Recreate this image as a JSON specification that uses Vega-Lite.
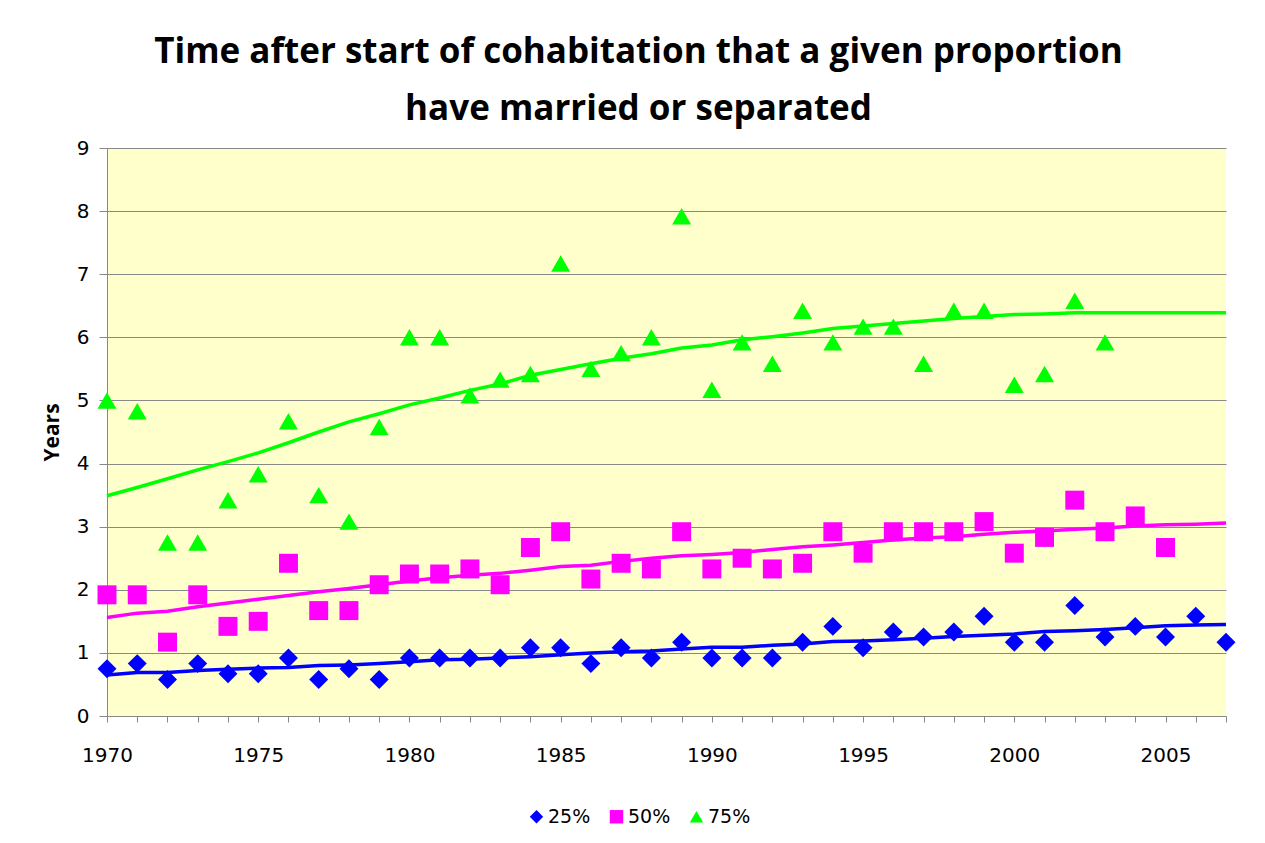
{
  "$schema": "https://vega.github.io/schema/vega-lite/v6.json",
  "width": 1119,
  "height": 568,
  "autosize": "none",
  "padding": {"left": 107, "top": 148, "right": 39, "bottom": 127},
  "background": "white",
  "title": {
    "text": ["Time after start of cohabitation that a given proportion", "have married or separated"],
    "font": "Open Sans",
    "fontSize": 35,
    "fontWeight": "bold",
    "lineHeight": 57,
    "color": "black",
    "anchor": "middle",
    "dx": -28,
    "offset": 11
  },
  "config": {
    "view": {"fill": "#FFFFCC", "stroke": null},
    "font": "DejaVu Sans",
    "legend": {
      "orient": "none",
      "legendX": 420,
      "legendY": 659,
      "direction": "horizontal",
      "title": null,
      "symbolSize": 180,
      "symbolOpacity": 1,
      "symbolStrokeWidth": 0,
      "labelFontSize": 19,
      "labelFont": "DejaVu Sans",
      "labelColor": "black",
      "labelOffset": 2,
      "columnPadding": 16
    }
  },
  "datasets": {
    "trends": [
      {"year": 1970, "series": "25%", "value": 0.65}, {"year": 1971, "series": "25%", "value": 0.69}, {"year": 1972, "series": "25%", "value": 0.69}, {"year": 1973, "series": "25%", "value": 0.72}, {"year": 1974, "series": "25%", "value": 0.74}, {"year": 1975, "series": "25%", "value": 0.76}, {"year": 1976, "series": "25%", "value": 0.77}, {"year": 1977, "series": "25%", "value": 0.80}, {"year": 1978, "series": "25%", "value": 0.81}, {"year": 1979, "series": "25%", "value": 0.83}, {"year": 1980, "series": "25%", "value": 0.86}, {"year": 1981, "series": "25%", "value": 0.89}, {"year": 1982, "series": "25%", "value": 0.90}, {"year": 1983, "series": "25%", "value": 0.92},
      {"year": 1984, "series": "25%", "value": 0.94}, {"year": 1985, "series": "25%", "value": 0.97}, {"year": 1986, "series": "25%", "value": 1.00}, {"year": 1987, "series": "25%", "value": 1.02}, {"year": 1988, "series": "25%", "value": 1.03}, {"year": 1989, "series": "25%", "value": 1.06}, {"year": 1990, "series": "25%", "value": 1.09}, {"year": 1991, "series": "25%", "value": 1.09}, {"year": 1992, "series": "25%", "value": 1.12}, {"year": 1993, "series": "25%", "value": 1.14}, {"year": 1994, "series": "25%", "value": 1.18}, {"year": 1995, "series": "25%", "value": 1.19},
      {"year": 1996, "series": "25%", "value": 1.21}, {"year": 1997, "series": "25%", "value": 1.23}, {"year": 1998, "series": "25%", "value": 1.26}, {"year": 1999, "series": "25%", "value": 1.28}, {"year": 2000, "series": "25%", "value": 1.30}, {"year": 2001, "series": "25%", "value": 1.34}, {"year": 2002, "series": "25%", "value": 1.35}, {"year": 2003, "series": "25%", "value": 1.37}, {"year": 2004, "series": "25%", "value": 1.40}, {"year": 2005, "series": "25%", "value": 1.43}, {"year": 2006, "series": "25%", "value": 1.44}, {"year": 2007, "series": "25%", "value": 1.45},
      {"year": 1970, "series": "50%", "value": 1.56}, {"year": 1971, "series": "50%", "value": 1.63}, {"year": 1972, "series": "50%", "value": 1.66}, {"year": 1973, "series": "50%", "value": 1.73}, {"year": 1974, "series": "50%", "value": 1.79}, {"year": 1975, "series": "50%", "value": 1.85}, {"year": 1976, "series": "50%", "value": 1.91}, {"year": 1977, "series": "50%", "value": 1.97}, {"year": 1978, "series": "50%", "value": 2.02}, {"year": 1979, "series": "50%", "value": 2.08}, {"year": 1980, "series": "50%", "value": 2.14}, {"year": 1981, "series": "50%", "value": 2.19}, {"year": 1982, "series": "50%", "value": 2.23}, {"year": 1983, "series": "50%", "value": 2.26},
      {"year": 1984, "series": "50%", "value": 2.31}, {"year": 1985, "series": "50%", "value": 2.37}, {"year": 1986, "series": "50%", "value": 2.39}, {"year": 1987, "series": "50%", "value": 2.45}, {"year": 1988, "series": "50%", "value": 2.50}, {"year": 1989, "series": "50%", "value": 2.54}, {"year": 1990, "series": "50%", "value": 2.56}, {"year": 1991, "series": "50%", "value": 2.59}, {"year": 1992, "series": "50%", "value": 2.64}, {"year": 1993, "series": "50%", "value": 2.68}, {"year": 1994, "series": "50%", "value": 2.71}, {"year": 1995, "series": "50%", "value": 2.75},
      {"year": 1996, "series": "50%", "value": 2.79}, {"year": 1997, "series": "50%", "value": 2.82}, {"year": 1998, "series": "50%", "value": 2.84}, {"year": 1999, "series": "50%", "value": 2.88}, {"year": 2000, "series": "50%", "value": 2.91}, {"year": 2001, "series": "50%", "value": 2.93}, {"year": 2002, "series": "50%", "value": 2.96}, {"year": 2003, "series": "50%", "value": 2.98}, {"year": 2004, "series": "50%", "value": 3.01}, {"year": 2005, "series": "50%", "value": 3.03}, {"year": 2006, "series": "50%", "value": 3.04}, {"year": 2007, "series": "50%", "value": 3.06},
      {"year": 1970, "series": "75%", "value": 3.49}, {"year": 1971, "series": "75%", "value": 3.62}, {"year": 1972, "series": "75%", "value": 3.76}, {"year": 1973, "series": "75%", "value": 3.90}, {"year": 1974, "series": "75%", "value": 4.03}, {"year": 1975, "series": "75%", "value": 4.17}, {"year": 1976, "series": "75%", "value": 4.33}, {"year": 1977, "series": "75%", "value": 4.50}, {"year": 1978, "series": "75%", "value": 4.66}, {"year": 1979, "series": "75%", "value": 4.79}, {"year": 1980, "series": "75%", "value": 4.93}, {"year": 1981, "series": "75%", "value": 5.04}, {"year": 1982, "series": "75%", "value": 5.16}, {"year": 1983, "series": "75%", "value": 5.26},
      {"year": 1984, "series": "75%", "value": 5.40}, {"year": 1985, "series": "75%", "value": 5.49}, {"year": 1986, "series": "75%", "value": 5.58}, {"year": 1987, "series": "75%", "value": 5.67}, {"year": 1988, "series": "75%", "value": 5.74}, {"year": 1989, "series": "75%", "value": 5.83}, {"year": 1990, "series": "75%", "value": 5.88}, {"year": 1991, "series": "75%", "value": 5.96}, {"year": 1992, "series": "75%", "value": 6.01}, {"year": 1993, "series": "75%", "value": 6.07}, {"year": 1994, "series": "75%", "value": 6.14}, {"year": 1995, "series": "75%", "value": 6.18},
      {"year": 1996, "series": "75%", "value": 6.22}, {"year": 1997, "series": "75%", "value": 6.26}, {"year": 1998, "series": "75%", "value": 6.30}, {"year": 1999, "series": "75%", "value": 6.33}, {"year": 2000, "series": "75%", "value": 6.36}, {"year": 2001, "series": "75%", "value": 6.37}, {"year": 2002, "series": "75%", "value": 6.39}, {"year": 2003, "series": "75%", "value": 6.39}, {"year": 2004, "series": "75%", "value": 6.39}, {"year": 2005, "series": "75%", "value": 6.39}, {"year": 2006, "series": "75%", "value": 6.39}, {"year": 2007, "series": "75%", "value": 6.39}
    ],
    "points": [
      {"year": 1970, "series": "25%", "value": 0.75}, {"year": 1971, "series": "25%", "value": 0.83}, {"year": 1972, "series": "25%", "value": 0.58}, {"year": 1973, "series": "25%", "value": 0.83}, {"year": 1974, "series": "25%", "value": 0.67}, {"year": 1975, "series": "25%", "value": 0.67}, {"year": 1976, "series": "25%", "value": 0.92}, {"year": 1977, "series": "25%", "value": 0.58}, {"year": 1978, "series": "25%", "value": 0.75}, {"year": 1979, "series": "25%", "value": 0.58}, {"year": 1980, "series": "25%", "value": 0.92}, {"year": 1981, "series": "25%", "value": 0.92}, {"year": 1982, "series": "25%", "value": 0.92}, {"year": 1983, "series": "25%", "value": 0.92}, {"year": 1984, "series": "25%", "value": 1.08}, {"year": 1985, "series": "25%", "value": 1.08}, {"year": 1986, "series": "25%", "value": 0.83}, {"year": 1987, "series": "25%", "value": 1.08}, {"year": 1988, "series": "25%", "value": 0.92}, {"year": 1989, "series": "25%", "value": 1.17}, {"year": 1990, "series": "25%", "value": 0.92}, {"year": 1991, "series": "25%", "value": 0.92}, {"year": 1992, "series": "25%", "value": 0.92}, {"year": 1993, "series": "25%", "value": 1.17}, {"year": 1994, "series": "25%", "value": 1.42}, {"year": 1995, "series": "25%", "value": 1.08}, {"year": 1996, "series": "25%", "value": 1.33}, {"year": 1997, "series": "25%", "value": 1.25}, {"year": 1998, "series": "25%", "value": 1.33}, {"year": 1999, "series": "25%", "value": 1.58}, {"year": 2000, "series": "25%", "value": 1.17}, {"year": 2001, "series": "25%", "value": 1.17}, {"year": 2002, "series": "25%", "value": 1.75}, {"year": 2003, "series": "25%", "value": 1.25}, {"year": 2004, "series": "25%", "value": 1.42}, {"year": 2005, "series": "25%", "value": 1.25}, {"year": 2006, "series": "25%", "value": 1.58}, {"year": 2007, "series": "25%", "value": 1.17},
      {"year": 1970, "series": "50%", "value": 1.92}, {"year": 1971, "series": "50%", "value": 1.92}, {"year": 1972, "series": "50%", "value": 1.17}, {"year": 1973, "series": "50%", "value": 1.92}, {"year": 1974, "series": "50%", "value": 1.42}, {"year": 1975, "series": "50%", "value": 1.5}, {"year": 1976, "series": "50%", "value": 2.42}, {"year": 1977, "series": "50%", "value": 1.67}, {"year": 1978, "series": "50%", "value": 1.67}, {"year": 1979, "series": "50%", "value": 2.08}, {"year": 1980, "series": "50%", "value": 2.25}, {"year": 1981, "series": "50%", "value": 2.25}, {"year": 1982, "series": "50%", "value": 2.33}, {"year": 1983, "series": "50%", "value": 2.08}, {"year": 1984, "series": "50%", "value": 2.67}, {"year": 1985, "series": "50%", "value": 2.92}, {"year": 1986, "series": "50%", "value": 2.17}, {"year": 1987, "series": "50%", "value": 2.42}, {"year": 1988, "series": "50%", "value": 2.33}, {"year": 1989, "series": "50%", "value": 2.92}, {"year": 1990, "series": "50%", "value": 2.33}, {"year": 1991, "series": "50%", "value": 2.5}, {"year": 1992, "series": "50%", "value": 2.33}, {"year": 1993, "series": "50%", "value": 2.42}, {"year": 1994, "series": "50%", "value": 2.92}, {"year": 1995, "series": "50%", "value": 2.58}, {"year": 1996, "series": "50%", "value": 2.92}, {"year": 1997, "series": "50%", "value": 2.92}, {"year": 1998, "series": "50%", "value": 2.92}, {"year": 1999, "series": "50%", "value": 3.08}, {"year": 2000, "series": "50%", "value": 2.58}, {"year": 2001, "series": "50%", "value": 2.83}, {"year": 2002, "series": "50%", "value": 3.42}, {"year": 2003, "series": "50%", "value": 2.92}, {"year": 2004, "series": "50%", "value": 3.17}, {"year": 2005, "series": "50%", "value": 2.67},
      {"year": 1970, "series": "75%", "value": 5.0}, {"year": 1971, "series": "75%", "value": 4.83}, {"year": 1972, "series": "75%", "value": 2.75}, {"year": 1973, "series": "75%", "value": 2.75}, {"year": 1974, "series": "75%", "value": 3.42}, {"year": 1975, "series": "75%", "value": 3.83}, {"year": 1976, "series": "75%", "value": 4.67}, {"year": 1977, "series": "75%", "value": 3.5}, {"year": 1978, "series": "75%", "value": 3.08}, {"year": 1979, "series": "75%", "value": 4.58}, {"year": 1980, "series": "75%", "value": 6.0}, {"year": 1981, "series": "75%", "value": 6.0}, {"year": 1982, "series": "75%", "value": 5.08}, {"year": 1983, "series": "75%", "value": 5.33}, {"year": 1984, "series": "75%", "value": 5.42}, {"year": 1985, "series": "75%", "value": 7.17}, {"year": 1986, "series": "75%", "value": 5.5}, {"year": 1987, "series": "75%", "value": 5.75}, {"year": 1988, "series": "75%", "value": 6.0}, {"year": 1989, "series": "75%", "value": 7.92}, {"year": 1990, "series": "75%", "value": 5.17}, {"year": 1991, "series": "75%", "value": 5.92}, {"year": 1992, "series": "75%", "value": 5.58}, {"year": 1993, "series": "75%", "value": 6.42}, {"year": 1994, "series": "75%", "value": 5.92}, {"year": 1995, "series": "75%", "value": 6.17}, {"year": 1996, "series": "75%", "value": 6.17}, {"year": 1997, "series": "75%", "value": 5.58}, {"year": 1998, "series": "75%", "value": 6.42}, {"year": 1999, "series": "75%", "value": 6.42}, {"year": 2000, "series": "75%", "value": 5.25}, {"year": 2001, "series": "75%", "value": 5.42}, {"year": 2002, "series": "75%", "value": 6.58}, {"year": 2003, "series": "75%", "value": 5.92}
    ]
  },
  "encoding": {
    "x": {
      "field": "year", "type": "quantitative",
      "scale": {"domain": [1970, 2007], "nice": false, "zero": false},
      "axis": {
        "title": null,
        "values": [1970,1971,1972,1973,1974,1975,1976,1977,1978,1979,1980,1981,1982,1983,1984,1985,1986,1987,1988,1989,1990,1991,1992,1993,1994,1995,1996,1997,1998,1999,2000,2001,2002,2003,2004,2005,2006,2007],
        "format": "d",
        "labelExpr": "datum.value % 5 === 0 ? datum.label : ''",
        "labelFlush": false,
        "labelOverlap": false,
        "labelBound": false,
        "grid": false,
        "tickSize": 6,
        "tickColor": "#888888",
        "domainColor": "#888888",
        "labelPadding": 23,
        "labelFontSize": 20,
        "labelFont": "DejaVu Sans",
        "labelColor": "black"
      }
    },
    "y": {
      "field": "value", "type": "quantitative",
      "scale": {"domain": [0, 9], "nice": false},
      "axis": {
        "title": "Years",
        "values": [0,1,2,3,4,5,6,7,8,9],
        "format": "d",
        "grid": true,
        "gridColor": "#888888",
        "tickSize": 8,
        "tickColor": "#888888",
        "domainColor": "#888888",
        "labelPadding": 10,
        "labelFontSize": 20,
        "labelFont": "DejaVu Sans",
        "labelColor": "black",
        "titleFont": "Open Sans",
        "titleFontSize": 21,
        "titleFontWeight": "bold",
        "titleColor": "black",
        "titleX": -55,
        "titleY": 284,
        "titleAlign": "center",
        "titleBaseline": "middle"
      }
    },
    "color": {
      "field": "series", "type": "nominal",
      "scale": {"domain": ["25%", "50%", "75%"], "range": ["#0000FF", "#FF00FF", "#00FF00"]}
    }
  },
  "layer": [
    {
      "data": {"name": "trends"},
      "mark": {"type": "line", "strokeWidth": 3.5}
    },
    {
      "data": {"name": "points"},
      "mark": {"type": "point", "filled": true, "opacity": 1, "size": 360},
      "encoding": {
        "shape": {
          "field": "series", "type": "nominal",
          "scale": {"domain": ["25%", "50%", "75%"], "range": ["diamond", "square", "triangle-up"]}
        }
      }
    }
  ]
}
